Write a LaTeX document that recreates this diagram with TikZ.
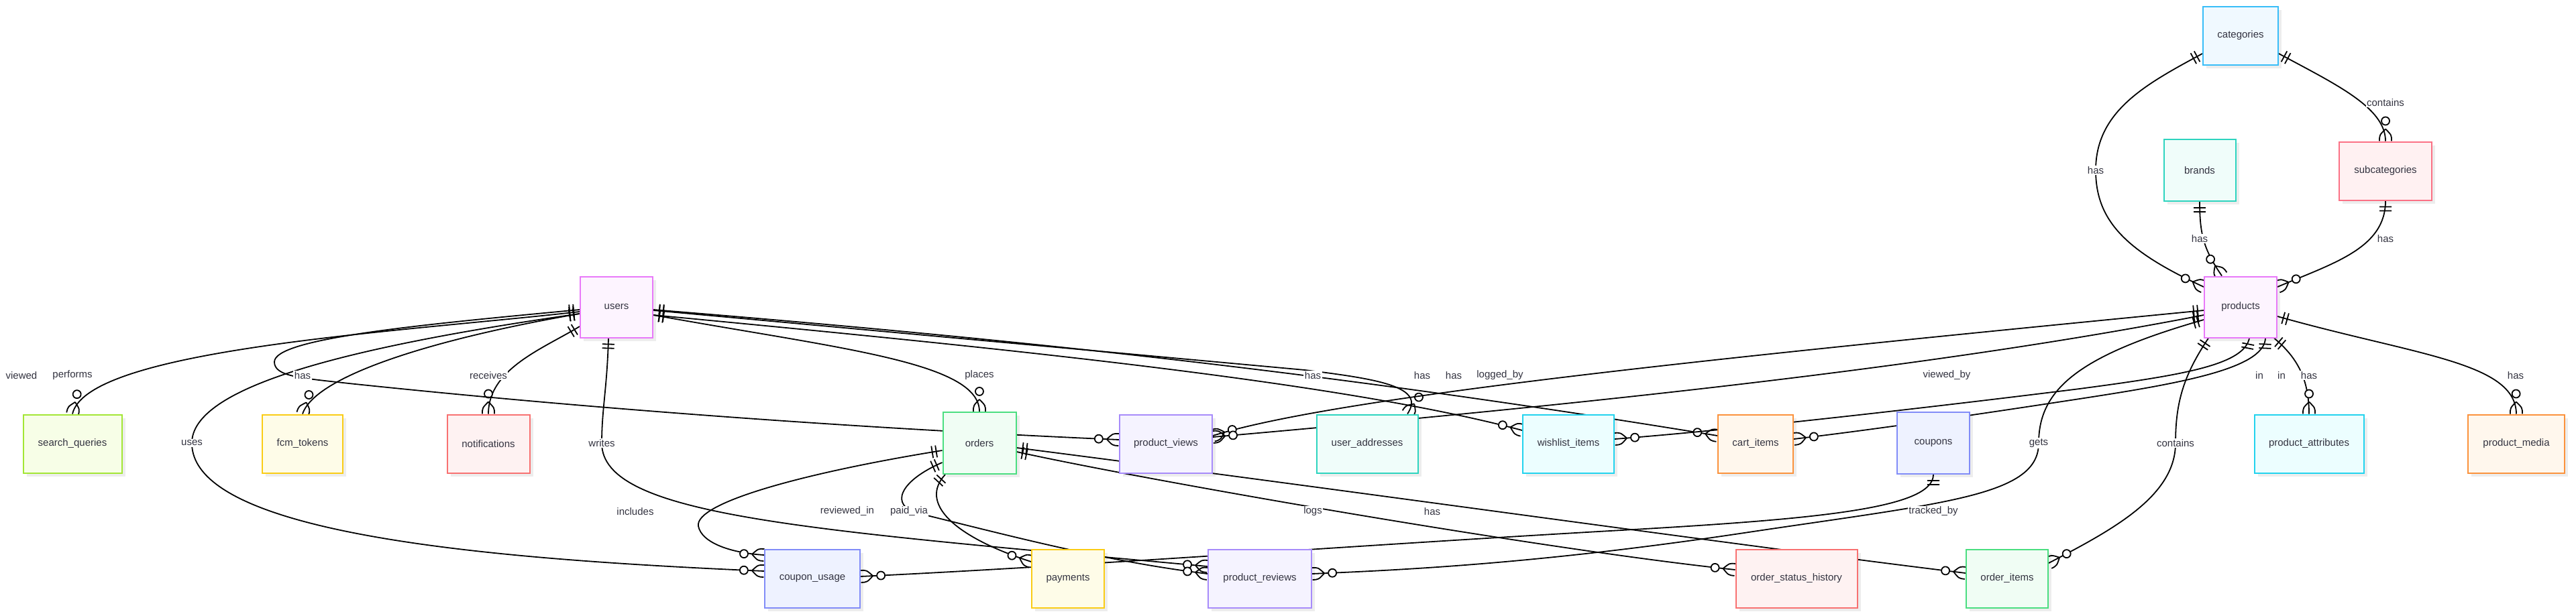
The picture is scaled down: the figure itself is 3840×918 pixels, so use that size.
\documentclass[tikz,border=0pt]{standalone}
\usepackage{fontspec}
\setmainfont{Liberation Sans}
\usetikzlibrary{decorations.markings}
\usetikzlibrary{shadows}

\definecolor{textGray}{HTML}{333340}
\definecolor{pinkLine}{HTML}{E879F9}\definecolor{pinkFill}{HTML}{FDF4FF}
\definecolor{skyLine}{HTML}{38BDF8}\definecolor{skyFill}{HTML}{F0F9FF}
\definecolor{tealLine}{HTML}{2DD4BF}\definecolor{tealFill}{HTML}{F0FDFA}
\definecolor{roseLine}{HTML}{FB7185}\definecolor{roseFill}{HTML}{FFF1F2}
\definecolor{limeLine}{HTML}{A3E635}\definecolor{limeFill}{HTML}{F7FEE7}
\definecolor{yellowLine}{HTML}{FACC15}\definecolor{yellowFill}{HTML}{FEFCE8}
\definecolor{redLine}{HTML}{F87171}\definecolor{redFill}{HTML}{FEF2F2}
\definecolor{greenLine}{HTML}{4ADE80}\definecolor{greenFill}{HTML}{F0FDF4}
\definecolor{violetLine}{HTML}{A78BFA}\definecolor{violetFill}{HTML}{F5F3FF}
\definecolor{cyanLine}{HTML}{22D3EE}\definecolor{cyanFill}{HTML}{ECFEFF}
\definecolor{orangeLine}{HTML}{FB923C}\definecolor{orangeFill}{HTML}{FFF7ED}
\definecolor{indigoLine}{HTML}{818CF8}\definecolor{indigoFill}{HTML}{EEF2FF}

\pgfdeclarelayer{edgeLayer}
\pgfsetlayers{edgeLayer,main}

\begin{document}
\begin{tikzpicture}[x = 1pt, y = -1pt, font=\fontsize{15}{18}\selectfont]
	\tikzstyle{entityStyle}=[shape = rectangle, line width = 2pt, inner sep = 0pt, text = textGray, drop shadow = {shadow xshift = 5pt, shadow yshift = -5pt, fill = black, opacity = 0.07}]
	\tikzstyle{pinkStyle}=[entityStyle, draw = pinkLine, fill = pinkFill]
	\tikzstyle{skyStyle}=[entityStyle, draw = skyLine, fill = skyFill]
	\tikzstyle{tealStyle}=[entityStyle, draw = tealLine, fill = tealFill]
	\tikzstyle{roseStyle}=[entityStyle, draw = roseLine, fill = roseFill]
	\tikzstyle{limeStyle}=[entityStyle, draw = limeLine, fill = limeFill]
	\tikzstyle{yellowStyle}=[entityStyle, draw = yellowLine, fill = yellowFill]
	\tikzstyle{redStyle}=[entityStyle, draw = redLine, fill = redFill]
	\tikzstyle{greenStyle}=[entityStyle, draw = greenLine, fill = greenFill]
	\tikzstyle{violetStyle}=[entityStyle, draw = violetLine, fill = violetFill]
	\tikzstyle{cyanStyle}=[entityStyle, draw = cyanLine, fill = cyanFill]
	\tikzstyle{orangeStyle}=[entityStyle, draw = orangeLine, fill = orangeFill]
	\tikzstyle{indigoStyle}=[entityStyle, draw = indigoLine, fill = indigoFill]
	\tikzstyle{labelStyle}=[fill = white, inner sep = 1.5pt, text = textGray]
	\tikzstyle{relStyle}=[line width = 1.8pt, black]
	\tikzstyle{oneStart}=[postaction = {decorate, decoration = {markings, mark = at position 0 with {\draw[line width = 1.8pt] (9pt,-9pt) -- (9pt,9pt) (15pt,-9pt) -- (15pt,9pt);}}}]
	\tikzstyle{manyEnd}=[postaction = {decorate, decoration = {markings, mark = at position 0.9999 with {\draw[line width = 1.8pt] (-18pt,0pt) .. controls (-9pt,9pt) .. (0pt,9pt) (-18pt,0pt) .. controls (-9pt,-9pt) .. (0pt,-9pt); \draw[line width = 1.8pt, fill = white] (-30pt,0pt) circle (6pt);}}}]
	\useasboundingbox (0,0) rectangle (3840,918);
	\node[skyStyle, minimum width = 112pt, minimum height = 87pt] (categories) at (3340,53) {categories};
	\node[tealStyle, minimum width = 107pt, minimum height = 92pt] (brands) at (3279,254) {brands};
	\node[roseStyle, minimum width = 138pt, minimum height = 87pt] (subcategories) at (3556,255) {subcategories};
	\node[pinkStyle, minimum width = 108pt, minimum height = 91pt] (users) at (919,458) {users};
	\node[pinkStyle, minimum width = 108pt, minimum height = 91pt] (products) at (3340,458) {products};
	\node[limeStyle, minimum width = 147pt, minimum height = 87pt] (searchQueries) at (108,662) {search\_queries};
	\node[yellowStyle, minimum width = 120pt, minimum height = 87pt] (fcmTokens) at (451,662) {fcm\_tokens};
	\node[redStyle, minimum width = 123pt, minimum height = 87pt] (notifications) at (728,662) {notifications};
	\node[greenStyle, minimum width = 109pt, minimum height = 92pt] (orders) at (1460,661) {orders};
	\node[violetStyle, minimum width = 138pt, minimum height = 87pt] (productViews) at (1738,662) {product\_views};
	\node[tealStyle, minimum width = 151pt, minimum height = 87pt] (userAddresses) at (2038,662) {user\_addresses};
	\node[cyanStyle, minimum width = 136pt, minimum height = 87pt] (wishlistItems) at (2338,662) {wishlist\_items};
	\node[orangeStyle, minimum width = 112pt, minimum height = 87pt] (cartItems) at (2617,662) {cart\_items};
	\node[indigoStyle, minimum width = 108pt, minimum height = 92pt] (coupons) at (2882,661) {coupons};
	\node[cyanStyle, minimum width = 163pt, minimum height = 87pt] (productAttributes) at (3442,662) {product\_attributes};
	\node[orangeStyle, minimum width = 144pt, minimum height = 87pt] (productMedia) at (3751,662) {product\_media};
	\node[indigoStyle, minimum width = 142pt, minimum height = 87pt] (couponUsage) at (1211,863) {coupon\_usage};
	\node[yellowStyle, minimum width = 108pt, minimum height = 87pt] (payments) at (1592,863) {payments};
	\node[violetStyle, minimum width = 154pt, minimum height = 87pt] (productReviews) at (1878,863) {product\_reviews};
	\node[redStyle, minimum width = 181pt, minimum height = 87pt] (orderStatusHistory) at (2678,863) {order\_status\_history};
	\node[greenStyle, minimum width = 122pt, minimum height = 87pt] (orderItems) at (2992,863) {order\_items};
	\begin{pgfonlayer}{edgeLayer}
	\draw[relStyle, oneStart, manyEnd] (categories.west |- 0,80) .. controls (3200,125) and (3124,165) .. (3124,254) .. controls (3124,330) and (3170,375) .. (products.west |- 0,428);
	\draw[relStyle, oneStart, manyEnd] (categories.east |- 0,80) .. controls (3480,125) and (3556,160) .. (subcategories.north);
	\draw[relStyle, oneStart, manyEnd] (brands.south) .. controls (3279,350) and (3285,372) .. (products.north -| 3312,0);
	\draw[relStyle, oneStart, manyEnd] (subcategories.south) .. controls (3556,370) and (3480,392) .. (products.east |- 0,428);
	\draw[relStyle, oneStart, manyEnd] (users.west |- 0,465) .. controls (600,495) and (130,520) .. (searchQueries.north);
	\draw[relStyle, oneStart, manyEnd] (users.west |- 0,468) .. controls (650,505) and (470,560) .. (fcmTokens.north);
	\draw[relStyle, oneStart, manyEnd] (users.west |- 0,487) .. controls (810,520) and (728,550) .. (notifications.north);
	\draw[relStyle, oneStart, manyEnd] (users.west |- 0,462) .. controls (620,485) and (409,505) .. (409,540) .. controls (409,562) and (450,564) .. (520,572) .. controls (900,612) and (1300,640) .. (productViews.west |- 0,656);
	\draw[relStyle, oneStart, manyEnd] (users.east |- 0,470) .. controls (1250,520) and (1460,540) .. (orders.north);
	\draw[relStyle, oneStart, manyEnd] (users.east |- 0,463) -- (1945,552) .. controls (2060,566) and (2125,578) .. (userAddresses.north -| 2098,0);
	\draw[relStyle, oneStart, manyEnd] (users.east |- 0,462) .. controls (1500,505) and (1970,553) .. (cartItems.west |- 0,650);
	\draw[relStyle, oneStart, manyEnd] (users.east |- 0,470) .. controls (1500,520) and (2000,570) .. (wishlistItems.west |- 0,642);
	\draw[relStyle, oneStart, manyEnd] (users.west |- 0,468) .. controls (500,520) and (286,580) .. (286,661) .. controls (286,800) and (750,835) .. (couponUsage.west |- 0,852);
	\draw[relStyle, oneStart, manyEnd] (users.south -| 907,0) .. controls (905,580) and (897,610) .. (897,661) .. controls (897,770) and (1200,790) .. (productReviews.west |- 0,845);
	\draw[relStyle, oneStart, manyEnd] (orders.west |- 0,690) .. controls (1340,718) and (1325,755) .. (1370,766) .. controls (1500,798) and (1650,838) .. (productReviews.west |- 0,856);
	\draw[relStyle, oneStart, manyEnd] (orders.south -| 1409,0) .. controls (1370,750) and (1420,800) .. (payments.west |- 0,838);
	\draw[relStyle, oneStart, manyEnd] (orders.west |- 0,672) .. controls (1200,705) and (1035,750) .. (1041,785) .. controls (1046,810) and (1090,825) .. (couponUsage.west |- 0,828);
	\draw[relStyle, oneStart, manyEnd] (orders.east |- 0,674) .. controls (1700,715) and (2300,820) .. (orderStatusHistory.west |- 0,850);
	\draw[relStyle, oneStart, manyEnd] (orders.east |- 0,668) .. controls (2000,730) and (2600,815) .. (orderItems.west |- 0,855);
	\draw[relStyle, oneStart, manyEnd] (coupons.south) .. controls (2882,760) and (2700,775) .. (2400,792) .. controls (2000,815) and (1600,845) .. (couponUsage.east |- 0,860);
	\draw[relStyle, oneStart, manyEnd] (products.west |- 0,463) .. controls (2600,530) and (2000,590) .. (productViews.east |- 0,650);
	\draw[relStyle, oneStart, manyEnd] (products.west |- 0,470) .. controls (2900,545) and (2400,600) .. (productViews.east |- 0,652);
	\draw[relStyle, oneStart, manyEnd] (products.west |- 0,477) .. controls (3100,530) and (3039,580) .. (3039,661) .. controls (3039,740) and (2900,750) .. (2600,795) .. controls (2300,840) and (2100,850) .. (productReviews.east |- 0,856);
	\draw[relStyle, oneStart, manyEnd] (products.south -| 3292,0) .. controls (3255,560) and (3243,600) .. (3243,661) .. controls (3243,740) and (3150,790) .. (orderItems.east |- 0,840);
	\draw[relStyle, oneStart, manyEnd] (products.south -| 3353,0) .. controls (3345,545) and (3250,560) .. (3100,580) .. controls (2900,605) and (2600,640) .. (wishlistItems.east |- 0,655);
	\draw[relStyle, oneStart, manyEnd] (products.south -| 3377,0) .. controls (3375,550) and (3250,572) .. (3100,595) .. controls (2950,618) and (2800,640) .. (cartItems.east |- 0,655);
	\draw[relStyle, oneStart, manyEnd] (products.south -| 3390,0) .. controls (3420,530) and (3442,560) .. (productAttributes.north);
	\draw[relStyle, oneStart, manyEnd] (products.east |- 0,472) .. controls (3600,530) and (3750,540) .. (productMedia.north);
	\end{pgfonlayer}
	\node[labelStyle] (e0) at (3124,254) {has};
	\node[labelStyle] (e1) at (3556,153) {contains};
	\node[labelStyle] (e2) at (3279,356) {has};
	\node[labelStyle] (e3) at (3556,356) {has};
	\node[labelStyle] (e4) at (32,560) {viewed};
	\node[labelStyle] (e5) at (108,560) {performs};
	\node[labelStyle] (e6) at (451,560) {has};
	\node[labelStyle] (e7) at (728,560) {receives};
	\node[labelStyle] (e8) at (1460,560) {places};
	\node[labelStyle] (e9) at (1957,560) {has};
	\node[labelStyle] (e10) at (2120,560) {has};
	\node[labelStyle] (e11) at (2167,560) {has};
	\node[labelStyle] (e12) at (2236,560) {logged\_by};
	\node[labelStyle] (e13) at (2902,560) {viewed\_by};
	\node[labelStyle] (e14) at (3368,560) {in};
	\node[labelStyle] (e15) at (3401,560) {in};
	\node[labelStyle] (e16) at (3442,560) {has};
	\node[labelStyle] (e17) at (3750,560) {has};
	\node[labelStyle] (e18) at (286,661) {uses};
	\node[labelStyle] (e19) at (897,661) {writes};
	\node[labelStyle] (e20) at (3039,661) {gets};
	\node[labelStyle] (e21) at (3243,661) {contains};
	\node[labelStyle] (e22) at (947,763) {includes};
	\node[labelStyle] (e23) at (1263,763) {reviewed\_in};
	\node[labelStyle] (e24) at (1355,763) {paid\_via};
	\node[labelStyle] (e25) at (1957,763) {logs};
	\node[labelStyle] (e26) at (2135,763) {has};
	\node[labelStyle] (e27) at (2882,763) {tracked\_by};
\end{tikzpicture}
\end{document}
